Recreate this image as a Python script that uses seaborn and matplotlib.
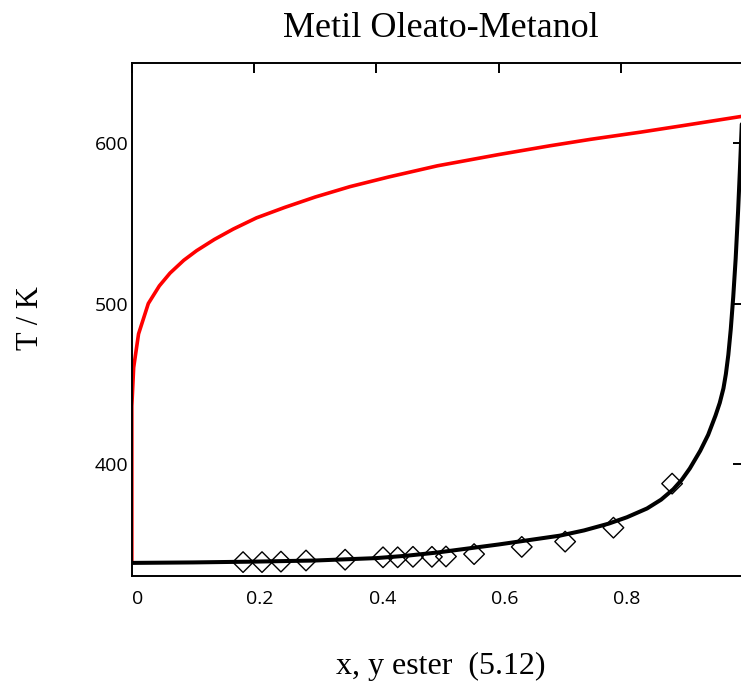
import matplotlib
matplotlib.use("Agg")
import matplotlib.pyplot as plt
import matplotlib.transforms as mtransforms
import seaborn as sns
import pandas as pd

# Dew curve (vapour phase), mole fraction of ester vs temperature
x_vap = [0.0, 0.0, 0.003, 0.011, 0.027, 0.045, 0.0625, 0.085, 0.106, 0.135,
         0.166, 0.204, 0.25, 0.30, 0.357, 0.42, 0.50, 0.60, 0.684, 0.75,
         0.832, 0.90, 0.95, 1.0]
T_vap = [338.0, 436.0, 460.0, 481.0, 500.0, 511.0, 519.0, 527.0, 533.0, 540.0,
         546.5, 553.5, 560.0, 566.5, 573.0, 579.0, 586.0, 593.0, 598.5, 602.5,
         607.0, 611.0, 614.0, 617.0]

# Bubble curve (liquid phase)
x_liq = [0.0, 0.1, 0.2, 0.3, 0.4, 0.45, 0.5, 0.6, 0.7, 0.74, 0.78, 0.81,
         0.843, 0.866, 0.886, 0.90, 0.913, 0.93, 0.943, 0.955, 0.962, 0.968,
         0.972, 0.976, 0.980, 0.984, 0.988, 0.992, 0.995, 0.998]
T_liq = [338.0, 338.3, 338.8, 339.5, 341.0, 342.5, 344.5, 349.5, 355.0, 358.3,
         362.5, 366.5, 372.0, 377.5, 384.0, 390.0, 397.0, 408.0, 418.0, 430.0,
         438.0, 447.0, 456.0, 468.0, 484.0, 504.0, 528.0, 558.0, 584.0, 612.0]

# Experimental bubble points
x_exp = [0.182, 0.213, 0.244, 0.285, 0.349, 0.411, 0.435, 0.460, 0.491, 0.514,
         0.560, 0.638, 0.709, 0.788, 0.884]
T_exp = [338.5, 338.5, 338.8, 339.5, 340.0, 341.5, 341.5, 341.8, 341.8, 342.0,
         343.5, 348.0, 351.3, 360.0, 387.5]

x_ticks = [0.0, 0.2, 0.4, 0.6, 0.8, 1.0]
x_tick_labels = ["0", "0.2", "0.4", "0.6", "0.8", ""]
y_ticks = [400, 500, 600]
y_tick_labels = ["400", "500", "600"]

vap = pd.DataFrame({"x": x_vap, "T": T_vap})
liq = pd.DataFrame({"x": x_liq, "T": T_liq})
exp = pd.DataFrame({"x": x_exp, "T": T_exp})

sns.set_theme(style="white")
plt.rcParams["font.family"] = ["Liberation Serif", "DejaVu Serif"]

fig = plt.figure(figsize=(7.41, 6.81), dpi=100)
ax = fig.add_axes([0.1779, 0.1546, 0.8248, 0.7524])

sns.lineplot(data=vap, x="x", y="T", sort=False, estimator=None,
             color="#ff0000", linewidth=2.6, ax=ax)
sns.lineplot(data=liq, x="x", y="T", sort=False, estimator=None,
             color="black", linewidth=2.9, ax=ax)
sns.scatterplot(data=exp, x="x", y="T", marker="D", s=110,
                facecolor="none", edgecolor="black", linewidth=1.0,
                ax=ax, zorder=3)

ax.set_xlim(0, 1)
ax.set_ylim(330, 650)
ax.set_xticks(x_ticks)
ax.set_xticklabels(x_tick_labels)
ax.set_yticks(y_ticks)
ax.set_yticklabels(y_tick_labels)

for side in ["left", "right", "top", "bottom"]:
    ax.spines[side].set_visible(True)
    ax.spines[side].set_color("black")
    ax.spines[side].set_linewidth(1.4)

ax.tick_params(axis="both", which="major", direction="in", length=7,
               width=1.4, color="black", top=True, right=True,
               labelsize=14, labelcolor="black")
ax.tick_params(axis="x", pad=10)
ax.tick_params(axis="y", pad=2.5)

shift = mtransforms.ScaledTranslation(6 / 100, 0, fig.dpi_scale_trans)
for lbl in ax.get_xticklabels() + ax.get_yticklabels():
    lbl.set_fontfamily(["Open Sans", "DejaVu Sans"])
for lbl in ax.get_xticklabels():
    lbl.set_transform(lbl.get_transform() + shift)

ax.set_title("Metil Oleato-Metanol", fontsize=26, color="black",
             x=0.506, y=1.051, pad=0)
ax.set_xlabel("x, y ester  (5.12)", fontsize=23, color="black",
              va="baseline", ha="center")
ax.xaxis.set_label_coords(0.506, -0.192)
ax.set_ylabel("T / K", fontsize=22, color="black", va="center", ha="center")
ax.yaxis.set_label_coords(-0.166, 0.503)

ax.grid(False)
fig.savefig("out.png", dpi=100)
